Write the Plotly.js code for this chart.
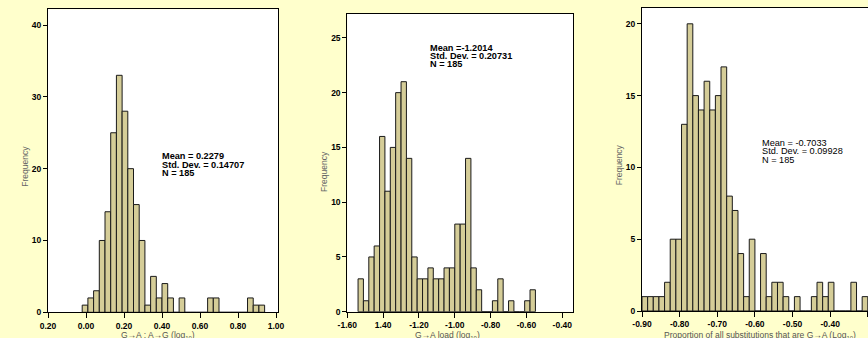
<!DOCTYPE html>
<html>
<head>
<meta charset="utf-8">
<script src="https://cdn.plot.ly/plotly-3.0.1.min.js"></script>
<style>html,body{margin:0;padding:0;background:#FFFFCC;}#chart{width:868px;height:338px;}</style>
</head>
<body>
<div id="chart"></div>
<script>
// ---- Data ----
// Panel 1: G->A : A->G (log10)
const p1BinStart = -0.02;
const p1BinWidth = 0.03;
const p1Counts = [1,2,3,10,14,25,33,28,20,15,10,1,5,2,4,2,0,2,0,0,0,0,2,2,0,0,0,0,0,2,1,1];
const p1TickVals = [-0.2,0,0.2,0.4,0.6,0.8,1.0];
const p1TickText = ["0.20","0.00","0.20","0.40","0.60","0.80","1.00"];
const p1YTicks = [0,10,20,30,40];
const p1Stats = ["Mean = 0.2279","Std. Dev. = 0.14707","N = 185"];
const p1XTitle = "G→A : A→G (log<sub>10</sub>)";

// Panel 2: G->A load (log10)
const p2BinStart = -1.54;
const p2BinWidth = 0.03;
const p2Counts = [3,1,5,6,16,11,15,20,21,14,5,3,3,4,3,3,4,4,8,8,14,4,2,0,0,1,3,0,1,0,0,1,2];
const p2TickVals = [-1.6,-1.4,-1.2,-1.0,-0.8,-0.6,-0.4];
const p2TickText = ["-1.60","1.40","-1.20","-1.00","-0.80","-0.60","-0.40"];
const p2YTicks = [0,5,10,15,20,25];
const p2Stats = ["Mean =-1.2014","Std. Dev. = 0.20731","N = 185"];
const p2XTitle = "G→A load (log<sub>10</sub>)";

// Panel 3: Proportion of all substitutions that are G->A (Log10)
const p3BinStart = -0.90;
const p3BinWidth = 0.015;
const p3Counts = [1,1,1,1,2,5,5,13,20,15,14,16,14,15,17,8,7,4,1,5,0,4,1,2,2,1,0,1,0,0,1,2,1,2,0,0,0,2,0,1];
const p3TickVals = [-0.9,-0.8,-0.7,-0.6,-0.5,-0.4,-0.3];
const p3TickText = ["-0.90","-0.80","-0.70","-0.60","-0.50","-0.40","-0.30"];
const p3YTicks = [0,5,10,15,20];
const p3Stats = ["Mean = -0.7033","Std. Dev. = 0.09928","N = 185"];
const p3XTitle = "Proportion of all substitutions that are G→A (Log<sub>10</sub>)";

const yTitle = "Frequency";

// ---- Styling ----
const W = 868, H = 338;
const FONT = "Arial, 'Liberation Sans', sans-serif";
const BAR_FILL = "#D5CD98";
const BAR_LINE = "#1a1a1a";
const px = x => x / W;
const py = y => 1 - y / H;

function barTrace(start, width, counts, xa, ya) {
  const centers = counts.map((_, i) => start + width * (i + 0.5));
  return {
    type: "bar", x: centers, y: counts, width: width,
    xaxis: xa, yaxis: ya,
    marker: {color: BAR_FILL, line: {color: BAR_LINE, width: 1}},
    hoverinfo: "x+y", showlegend: false
  };
}

const data = [
  barTrace(p1BinStart, p1BinWidth, p1Counts, "x", "y"),
  barTrace(p2BinStart, p2BinWidth, p2Counts, "x2", "y2"),
  barTrace(p3BinStart, p3BinWidth, p3Counts, "x3", "y3")
];

const TICKFONT = {family: FONT, size: 8.5, color: "#000", weight: "bold"};

function xAxis(domain, range, vals, text, anchor, mirror) {
  return {
    domain: domain, range: range, anchor: anchor,
    tickmode: "array", tickvals: vals, ticktext: text,
    ticks: "outside", ticklen: 5, tickwidth: 1, tickcolor: "#000",
    showline: true, linecolor: "#000", linewidth: 1, mirror: mirror,
    showgrid: false, zeroline: false, fixedrange: true,
    tickfont: TICKFONT
  };
}
function yAxis(domain, range, vals, anchor, mirror) {
  return {
    domain: domain, range: range, anchor: anchor,
    tickmode: "array", tickvals: vals,
    ticks: "outside", ticklen: 4, tickwidth: 1, tickcolor: "#000",
    showline: true, linecolor: "#000", linewidth: 1, mirror: mirror,
    showgrid: false, zeroline: false, fixedrange: true,
    tickfont: TICKFONT
  };
}

const annotations = [];
function stats(lines, x, ys, bold) {
  lines.forEach((t, i) => annotations.push({
    xref: "paper", yref: "paper", x: px(x), y: py(ys[i]),
    xanchor: "left", yanchor: "middle", showarrow: false, text: t,
    font: {family: FONT, size: 9.2, color: "#000", weight: bold ? "bold" : "normal"},
    borderpad: 0
  }));
}
stats(p1Stats, 160.5, [156, 164.7, 173.3], true);
stats(p2Stats, 429, [47.5, 55.5, 63.5], true);
stats(p3Stats, 761, [143, 151.3, 160], false);

function ytitle(x, y) {
  annotations.push({xref: "paper", yref: "paper", x: px(x), y: py(y),
    xanchor: "center", yanchor: "middle", textangle: -90, showarrow: false,
    text: yTitle, font: {family: FONT, size: 8.5, color: "#666"}});
}
ytitle(25, 166.7); ytitle(324.7, 171.3); ytitle(619, 165.3);

function xtitle(text, x) {
  annotations.push({xref: "paper", yref: "paper", x: px(x), y: py(335),
    xanchor: "center", yanchor: "middle", showarrow: false,
    text: text, font: {family: FONT, size: 8.5, color: "#555"}});
}
xtitle(p1XTitle, 157.5); xtitle(p2XTitle, 447); xtitle(p3XTitle, 760);

const layout = {
  width: W, height: H,
  margin: {l: 0, r: 0, t: 0, b: 0},
  paper_bgcolor: "#FFFFCC", plot_bgcolor: "#FFFFFF",
  bargap: 0, showlegend: false,
  xaxis: xAxis([px(48), px(278.3)], [-0.2, 1.012], p1TickVals, p1TickText, "y", true),
  yaxis: yAxis([py(312.3), py(9.3)], [0, 42.19], p1YTicks, "x", true),
  xaxis2: xAxis([px(347.3), px(573.3)], [-1.6, -0.3385], p2TickVals, p2TickText, "y2", true),
  yaxis2: yAxis([py(311.7), py(14)], [0, 27.18], p2YTicks, "x2", true),
  xaxis3: xAxis([px(642), 1], [-0.9, -0.2995], p3TickVals, p3TickText, "y3", true),
  yaxis3: yAxis([py(311), py(8)], [0, 21.1], p3YTicks, "x3", false),
  annotations: annotations
};

Plotly.newPlot("chart", data, layout, {displayModeBar: false, staticPlot: true});
</script>
</body>
</html>
